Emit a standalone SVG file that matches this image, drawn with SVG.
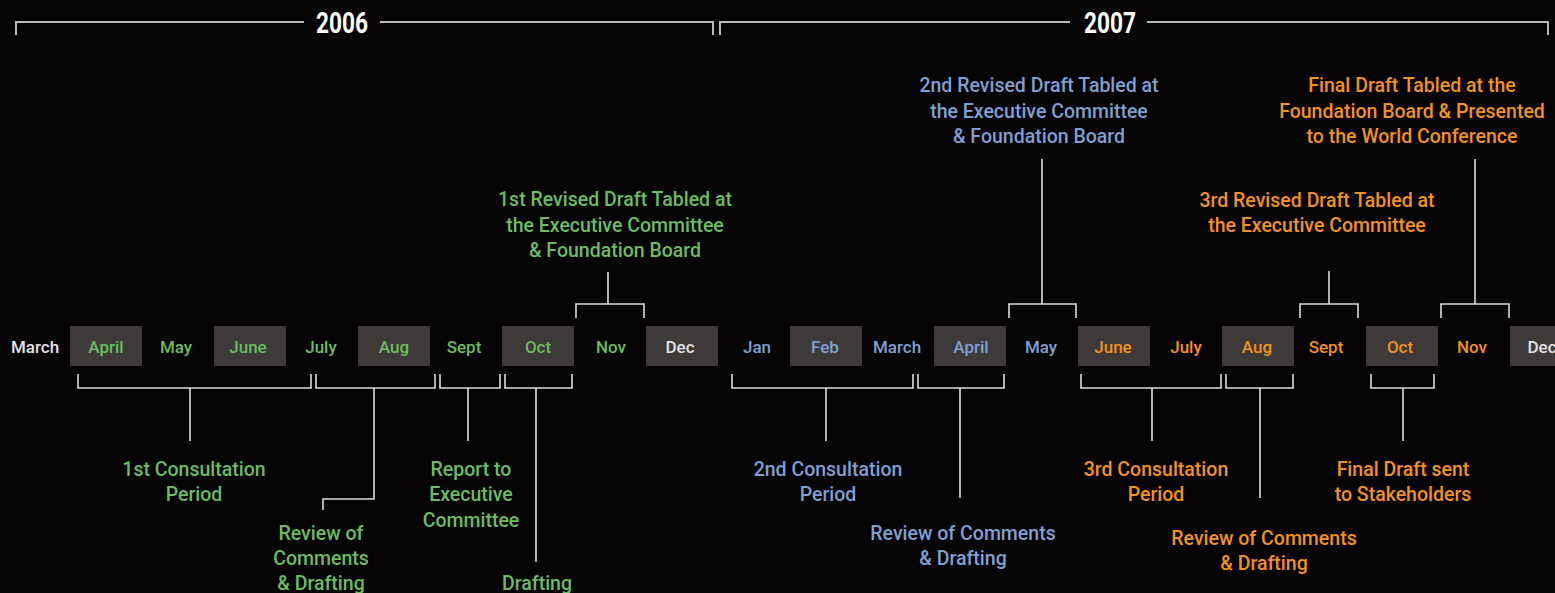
<svg xmlns="http://www.w3.org/2000/svg" width="1555" height="593" viewBox="0 0 1555 593">
<style>
text{font-family:Roboto,"Liberation Sans",sans-serif;font-weight:500;text-anchor:middle}
.yr{font-size:29px;font-weight:700;fill:#ffffff}
.m{font-size:17px}
.l{font-size:19.5px}
.box{fill:#3d3a39}
.g{fill:#6bbd5f}
.b{fill:#7fa0d3}
.o{fill:#f2921f}
.w{fill:#e4e4e4}
.bar{fill:none;stroke:#b8b8b8;stroke-width:2}
.c{fill:none;stroke:#dcdcdc;stroke-width:1.6}
</style>
<rect width="1555" height="593" fill="#050303"/>
<g id="year-2006"><text class="yr" x="342" y="33" textLength="52" lengthAdjust="spacingAndGlyphs">2006</text></g>
<g id="year-2007"><text class="yr" x="1110" y="33" textLength="52" lengthAdjust="spacingAndGlyphs">2007</text></g>
<g id="months">
<rect class="box" x="70" y="326" width="72" height="40"/>
<rect class="box" x="214" y="326" width="72" height="40"/>
<rect class="box" x="358" y="326" width="72" height="40"/>
<rect class="box" x="502" y="326" width="72" height="40"/>
<rect class="box" x="646" y="326" width="72" height="40"/>
<rect class="box" x="790" y="326" width="72" height="40"/>
<rect class="box" x="934" y="326" width="72" height="40"/>
<rect class="box" x="1078" y="326" width="72" height="40"/>
<rect class="box" x="1222" y="326" width="72" height="40"/>
<rect class="box" x="1366" y="326" width="72" height="40"/>
<rect class="box" x="1510" y="326" width="72" height="40"/>
<text class="m w" x="35" y="353">March</text>
<text class="m g" x="106" y="353">April</text>
<text class="m g" x="176" y="353">May</text>
<text class="m g" x="248" y="353">June</text>
<text class="m g" x="321" y="353">July</text>
<text class="m g" x="394" y="353">Aug</text>
<text class="m g" x="464" y="353">Sept</text>
<text class="m g" x="538" y="353">Oct</text>
<text class="m g" x="611" y="353">Nov</text>
<text class="m w" x="680" y="353">Dec</text>
<text class="m b" x="757" y="353">Jan</text>
<text class="m b" x="825" y="353">Feb</text>
<text class="m b" x="897" y="353">March</text>
<text class="m b" x="971" y="353">April</text>
<text class="m b" x="1041" y="353">May</text>
<text class="m o" x="1113" y="353">June</text>
<text class="m o" x="1186" y="353">July</text>
<text class="m o" x="1257" y="353">Aug</text>
<text class="m o" x="1326" y="353">Sept</text>
<text class="m o" x="1400" y="353">Oct</text>
<text class="m o" x="1472" y="353">Nov</text>
<text class="m w" x="1542" y="353">Dec</text>
</g>
<g id="connectors">
<path class="bar" d="M16,35 V22 H304 M380,22 H713 V35"/>
<path class="bar" d="M720,35 V22 H1070 M1147,22 H1548 V35"/>
<path class="c" d="M576,318 V304 H644 V318 M608,304 V272"/>
<path class="c" d="M1009,318 V304 H1076 V318 M1042,304 V159"/>
<path class="c" d="M1300,318 V304 H1358 V318 M1329,304 V271"/>
<path class="c" d="M1441,318 V304 H1509 V318 M1475,304 V159"/>
<path class="c" d="M78,374 V388 H311 V374 M190,388 V441"/>
<path class="c" d="M316,374 V388 H435 V374 M374,388 V499 H323 V510"/>
<path class="c" d="M440,374 V388 H500 V374 M468,388 V441"/>
<path class="c" d="M505,374 V388 H572 V374 M536,388 V562"/>
<path class="c" d="M732,374 V388 H913 V374 M826,388 V441"/>
<path class="c" d="M918,374 V388 H1004 V374 M960,388 V498"/>
<path class="c" d="M1081,374 V388 H1221 V374 M1152,388 V441"/>
<path class="c" d="M1226,374 V388 H1293 V374 M1260,388 V498"/>
<path class="c" d="M1371,374 V388 H1434 V374 M1403,388 V441"/>
</g>
<g id="first-revised-draft"><text class="l g" x="615"><tspan x="615" y="206">1st Revised Draft Tabled at</tspan><tspan x="615" y="232">the Executive Committee</tspan><tspan x="615" y="257">&amp; Foundation Board</tspan></text></g>
<g id="second-revised-draft"><text class="l b" x="1039"><tspan x="1039" y="92">2nd Revised Draft Tabled at</tspan><tspan x="1039" y="118">the Executive Committee</tspan><tspan x="1039" y="143">&amp; Foundation Board</tspan></text></g>
<g id="final-draft-tabled"><text class="l o" x="1412"><tspan x="1412" y="92">Final Draft Tabled at the</tspan><tspan x="1412" y="118">Foundation Board &amp; Presented</tspan><tspan x="1412" y="143">to the World Conference</tspan></text></g>
<g id="third-revised-draft"><text class="l o" x="1317"><tspan x="1317" y="207">3rd Revised Draft Tabled at</tspan><tspan x="1317" y="232">the Executive Committee</tspan></text></g>
<g id="first-consultation"><text class="l g" x="194"><tspan x="194" y="476">1st Consultation</tspan><tspan x="194" y="501">Period</tspan></text></g>
<g id="review-2006"><text class="l g" x="321"><tspan x="321" y="540">Review of</tspan><tspan x="321" y="565">Comments</tspan><tspan x="321" y="590">&amp; Drafting</tspan></text></g>
<g id="report-exec"><text class="l g" x="471"><tspan x="471" y="476">Report to</tspan><tspan x="471" y="501">Executive</tspan><tspan x="471" y="527">Committee</tspan></text></g>
<g id="drafting-2006"><text class="l g" x="537" y="590">Drafting</text></g>
<g id="second-consultation"><text class="l b" x="828"><tspan x="828" y="476">2nd Consultation</tspan><tspan x="828" y="501">Period</tspan></text></g>
<g id="review-2007-a"><text class="l b" x="963"><tspan x="963" y="540">Review of Comments</tspan><tspan x="963" y="565">&amp; Drafting</tspan></text></g>
<g id="third-consultation"><text class="l o" x="1156"><tspan x="1156" y="476">3rd Consultation</tspan><tspan x="1156" y="501">Period</tspan></text></g>
<g id="review-2007-b"><text class="l o" x="1264"><tspan x="1264" y="545">Review of Comments</tspan><tspan x="1264" y="570">&amp; Drafting</tspan></text></g>
<g id="final-draft-sent"><text class="l o" x="1403"><tspan x="1403" y="476">Final Draft sent</tspan><tspan x="1403" y="501">to Stakeholders</tspan></text></g>
</svg>
